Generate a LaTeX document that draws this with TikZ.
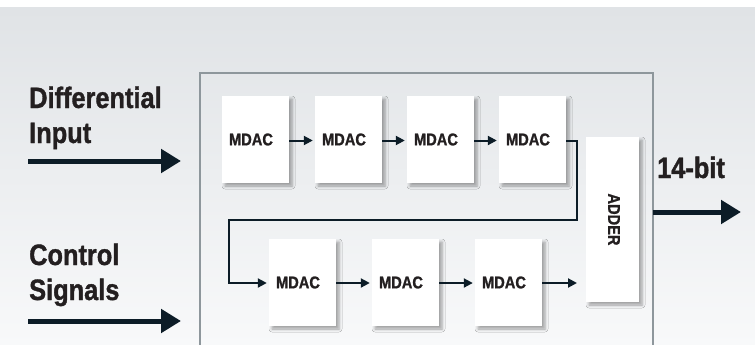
\documentclass[tikz,border=0pt]{standalone}
\usepackage{fontspec}
\setmainfont{Liberation Sans}[FakeStretch=0.86, BoldFeatures={FakeBold=1.2}]
\usetikzlibrary{arrows.meta,shadows.blur}
\definecolor{ink}{HTML}{231F20}
\definecolor{navy}{HTML}{0C1C27}
\definecolor{bgtop}{HTML}{E0E3E6}
\definecolor{bgbot}{HTML}{F8F9FA}
\definecolor{frame}{HTML}{8E979C}
\tikzset{
  blk/.style={fill=white, draw=none, minimum width=67pt, minimum height=87pt, inner sep=0pt,
    font=\bfseries\fontsize{17}{18}\selectfont, text=ink,
    blur shadow={shadow xshift=3pt, shadow yshift=-3pt, shadow blur radius=3pt, shadow opacity=35}},
  mdac/.style={blk, execute at end node={\hspace*{9pt}}},
  lbl/.style={anchor=base west, inner sep=0pt, align=left, text=ink,
    font=\bfseries\fontsize{29.5}{35}\selectfont},
  thin/.style={draw=navy, line width=2pt, -{Triangle[length=9pt,width=9pt]}},
  fat/.style={draw=navy, line width=5pt, -{Triangle[length=20pt,width=23pt]}},
}
\begin{document}
\begin{tikzpicture}[x=1pt,y=-1pt]
\useasboundingbox (0,0) rectangle (755,345);
\fill[white] (0,0) rectangle (755,345);
\shade[top color=bgtop, bottom color=bgbot] (0,8) rectangle (755,345);
\draw[frame, line width=1.3pt] (200,345) -- (200,73) -- (653,73) -- (653,345);

% top row
\node[mdac] (m1) at (255.5,139.5) {MDAC};
\node[mdac] (m2) at (348.5,139.5) {MDAC};
\node[mdac] (m3) at (440.5,139.5) {MDAC};
\node[mdac] (m4) at (532.5,139.5) {MDAC};
% bottom row
\node[mdac] (m5) at (302.5,282.5) {MDAC};
\node[mdac] (m6) at (405.5,282.5) {MDAC};
\node[mdac] (m7) at (508.5,282.5) {MDAC};
% adder
\node[blk, minimum width=53pt, minimum height=165pt] (add) at (612.5,219.5) {};
\node[rotate=-90, font=\bfseries\fontsize{17}{18}\selectfont, text=ink] (addt) at (614,219.5) {ADDER};

% labels
\node[lbl] (lin) at (29,143) {Differential\\Input};
\node[lbl] (lctl) at (29,300) {Control\\Signals};
\node[lbl] (lout) at (657,178) {14-bit};

% big arrows
\coordinate (a1s) at (28,161);
\coordinate (a1e) at (181,161);
\coordinate (a2s) at (28,321);
\coordinate (a2e) at (181,321);
\coordinate (a3s) at (653,212);
\coordinate (a3e) at (741,212);
\draw[fat] (a1s) -- (a1e);
\draw[fat] (a2s) -- (a2e);
\draw[fat] (a3s) -- (a3e);

% small arrows
\draw[thin] ([yshift=-1pt]m1.east) -- ([xshift=-2pt,yshift=-1pt]m2.west);
\draw[thin] ([yshift=-1pt]m2.east) -- ([xshift=-2pt,yshift=-1pt]m3.west);
\draw[thin] ([yshift=-1pt]m3.east) -- ([xshift=-2pt,yshift=-1pt]m4.west);
\coordinate (f1) at (577,141);
\coordinate (f2) at (577,220);
\coordinate (f3) at (229,220);
\coordinate (f4) at (229,283);
\draw[thin] ([yshift=-1.5pt]m4.east) -- (f1) -- (f2) -- (f3) -- (f4) -- ([xshift=-2pt,yshift=-0.5pt]m5.west);
\draw[thin] ([yshift=-0.5pt]m5.east) -- ([xshift=-2pt,yshift=-0.5pt]m6.west);
\draw[thin] ([yshift=-0.5pt]m6.east) -- ([xshift=-2pt,yshift=-0.5pt]m7.west);
\coordinate (toadd) at (577,283);
\draw[thin] ([yshift=-0.5pt]m7.east) -- (toadd);
\end{tikzpicture}
\end{document}
